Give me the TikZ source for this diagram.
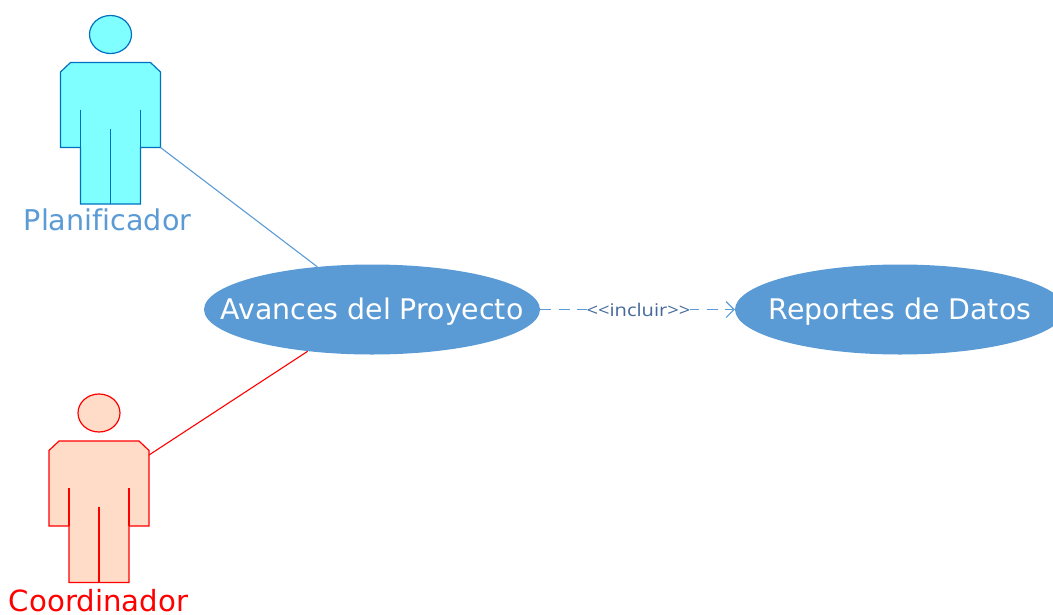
\documentclass[tikz,border=0pt]{standalone}
\usepackage{fontspec}
\setmainfont[Ligatures=NoCommon]{DejaVu Sans}
\newfontfamily\lblfont[FakeStretch=1.15]{Open Sans}
\usetikzlibrary{shapes.geometric,arrows.meta}
\definecolor{ublue}{HTML}{5B9BD5}
\definecolor{bodyA}{HTML}{7FFFFF}
\definecolor{lineA}{HTML}{0070C0}
\definecolor{bodyB}{HTML}{FFDCC8}
\definecolor{lblue}{HTML}{44699A}
\tikzset{
 ucshape/.style={ellipse,fill=ublue,inner sep=0pt,minimum height=90pt},
 uctext/.style={inner sep=0pt,anchor=base,text=white,font=\fontsize{28.4}{32}\selectfont},
 actorlabel/.style={inner sep=0pt,font=\fontsize{28.6}{32}\selectfont},
 assoc/.style={line width=1.1pt},
 headshape/.style={ellipse,line width=1.2pt,minimum width=42pt,minimum height=38pt,inner sep=0pt},
 inner/.style={line width=1.5pt},
}
\begin{document}
\begin{tikzpicture}[x=1pt,y=-1pt]
\useasboundingbox (0,0) rectangle (1053,614);
\clip (0,0) rectangle (1053,614);
% Planificador
\begin{scope}[shift={(110.5,62.5)},draw=lineA,fill=bodyA,line width=1.2pt]
 \node[headshape,draw=lineA,fill=bodyA] (headA) at (0,-28) {};
 \path[draw,fill] (-40,0) -- (40,0) -- (50,9.5) -- (50,85) -- (30,85) -- (30,141.5) -- (-30,141.5) -- (-30,85) -- (-50,85) -- (-50,9.5) -- cycle;
 \draw[inner] (-30,47) -- (-30,85) (30,47) -- (30,85) (0,66) -- (0,141.5);
 \coordinate (handA) at (50,85);
\end{scope}
\node[actorlabel,text=ublue,anchor=base] (labA) at (107.5,230) {Planificador};
% Coordinador
\begin{scope}[shift={(99,441)},draw=red,fill=bodyB,line width=1.2pt]
 \node[headshape,draw=red,fill=bodyB] (headB) at (0,-28) {};
 \path[draw,fill] (-40,0) -- (40,0) -- (50,9.5) -- (50,85) -- (30,85) -- (30,141.5) -- (-30,141.5) -- (-30,85) -- (-50,85) -- (-50,9.5) -- cycle;
 \draw[inner] (-30,47) -- (-30,85) (30,47) -- (30,85) (0,66) -- (0,141.5);
 \coordinate (handB) at (50,14);
\end{scope}
\node[actorlabel,text=red,anchor=base,font=\fontsize{29.2}{32}\selectfont] (labB) at (98.5,611) {Coordinador};
% Use cases
\node[ucshape,minimum width=336pt] (avances) at (372,309.5) {};
\node[uctext] (avtxt) at (372,319) {Avances del Proyecto};
\node[ucshape,minimum width=330pt] (reportes) at (900,309.5) {};
\node[uctext] (reptxt) at (900,319) {Reportes de Datos};
% Connectors
\draw[assoc,draw=ublue] (handA) -- (avances.142.8);
\draw[assoc,draw=red] (handB) -- (avances.213.4);
\draw[line width=1.1pt,draw=ublue,dash pattern=on 11pt off 7.5pt,-{Straight Barb[length=8pt,width=16pt,line width=1.1pt]}] (avances.east) -- (reportes.west)
 node[pos=0.5,xshift=1pt,fill=white,inner sep=0pt,text=lblue,font=\lblfont\fontsize{17.5}{20}\selectfont] (incl) {<{}<incluir>{}>};
\end{tikzpicture}
\end{document}
